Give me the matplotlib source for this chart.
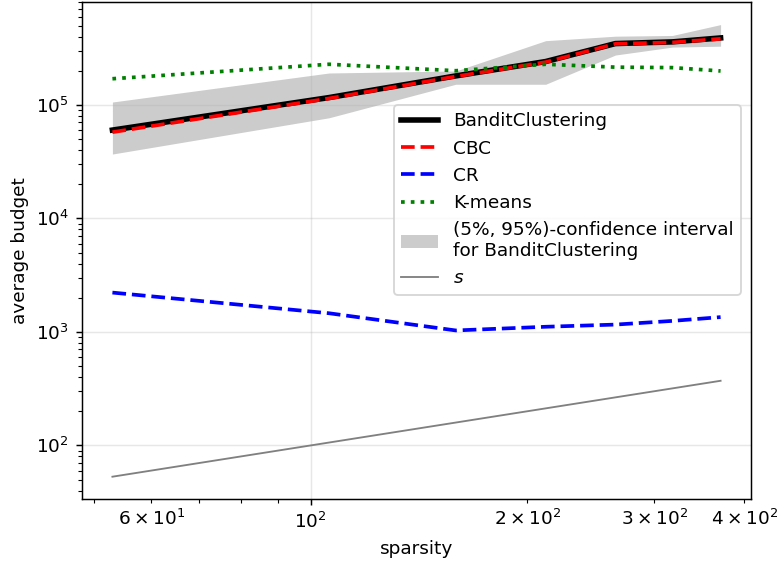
import matplotlib
matplotlib.use("Agg")
import matplotlib.pyplot as plt
import numpy as np

# sparsity values (x)
sparsity = [53, 106, 159, 212, 265, 318, 371]

# average budget per method
bandit = [6.0e4, 1.16e5, 1.80e5, 2.41e5, 3.47e5, 3.59e5, 3.89e5]
cbc = [5.75e4, 1.14e5, 1.78e5, 2.38e5, 3.45e5, 3.55e5, 3.82e5]
cr = [2.22e3, 1.46e3, 1.03e3, 1.11e3, 1.16e3, 1.25e3, 1.35e3]
kmeans = [1.70e5, 2.28e5, 2.0e5, 2.28e5, 2.15e5, 2.13e5, 1.99e5]

# (5%, 95%) interval for BanditClustering
ci_low = [3.69e4, 7.7e4, 1.52e5, 1.52e5, 2.75e5, 3.23e5, 3.29e5]
ci_high = [1.06e5, 1.91e5, 1.99e5, 3.68e5, 4.03e5, 4.09e5, 5.1e5]

if __name__ == '__main__':
    dpi = 133
    fig, ax = plt.subplots(figsize=(778 / dpi, 564 / dpi), dpi=dpi)
    fig.subplots_adjust(left=0.1054, right=0.9653, top=0.9965, bottom=0.1147)

    ax.plot(sparsity, bandit, color="black", linewidth=3, label="BanditClustering")
    ax.plot(sparsity, cbc, color="red", linestyle="dashed", linewidth=2, label="CBC")
    ax.plot(sparsity, cr, color="blue", linestyle="dashed", linewidth=2, label="CR")
    ax.plot(sparsity, kmeans, color="green", linestyle="dotted", linewidth=2, label="K-means")
    ax.fill_between(sparsity, ci_low, ci_high, color="grey", alpha=0.4, linewidth=0,
                    label="(5%, 95%)-confidence interval\nfor BanditClustering")
    ax.plot(sparsity, sparsity, color="grey", linewidth=1, label=r"$s$")

    ax.set_xscale("log")
    ax.set_yscale("log")
    ax.grid(alpha=0.3)
    ax.set_xlabel("sparsity")
    ax.set_ylabel("average budget")
    ax.legend(loc="upper right", bbox_to_anchor=(0.985, 0.793), borderaxespad=0)

    plt.savefig("out.png", dpi=dpi)
